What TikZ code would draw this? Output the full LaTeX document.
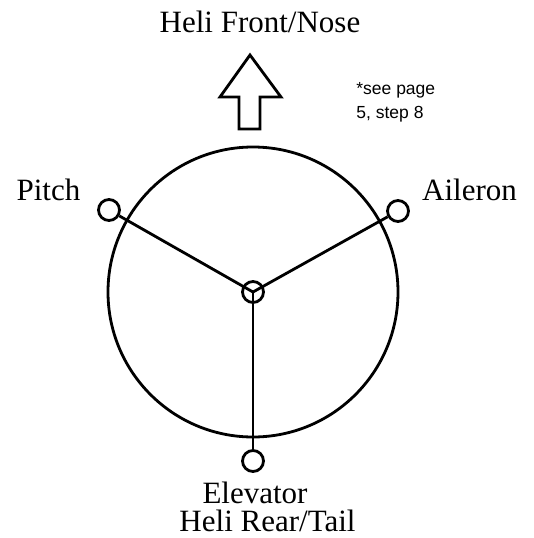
\documentclass[tikz,border=0pt]{standalone}
\usepackage{fontspec}
\setmainfont{Liberation Serif}
\newfontfamily\notefont{Liberation Sans}
\tikzset{
  ball/.style={circle,draw,line width=2.8pt,minimum size=21pt,inner sep=0pt},
  lbl/.style={anchor=base,inner sep=0pt,font=\fontsize{31}{36}\selectfont},
}
\begin{document}
\begin{tikzpicture}[x=1pt,y=-1pt,line width=2.8pt]
            \useasboundingbox (0,0) rectangle (534,538);
            \node[ball] (hub) at (253,292) {};
            \node[ball] (pitch) at (109,210) {};
            \node[ball] (aileron) at (398,211) {};
            \node[ball] (elevator) at (253,461) {};
            \draw (hub.center) circle (145);
            \foreach \s in {pitch,aileron,elevator} \draw (hub.center) -- (\s);
            \draw[line join=miter] (250,55) -- (281,97) -- (260,97) -- (260,129)
                -- (239,129) -- (239,97) -- (220,97) -- cycle;
            \node[lbl] (front) at (260,32) {Heli Front/Nose};
            \node[lbl] (pitchlbl) at (48.5,200) {Pitch};
            \node[lbl] (aileronlbl) at (469.5,200) {Aileron};
            \node[lbl] (elevatorlbl) at (255,503) {Elevator};
            \node[lbl] (rear) at (267.5,531) {Heli Rear/Tail};
            \node[anchor=base west,inner sep=0pt,align=left,font=\notefont\fontsize{17.5}{24}\selectfont]
                (note) at (355,118) {*see page\\5, step 8};
        \end{tikzpicture}
\end{document}
